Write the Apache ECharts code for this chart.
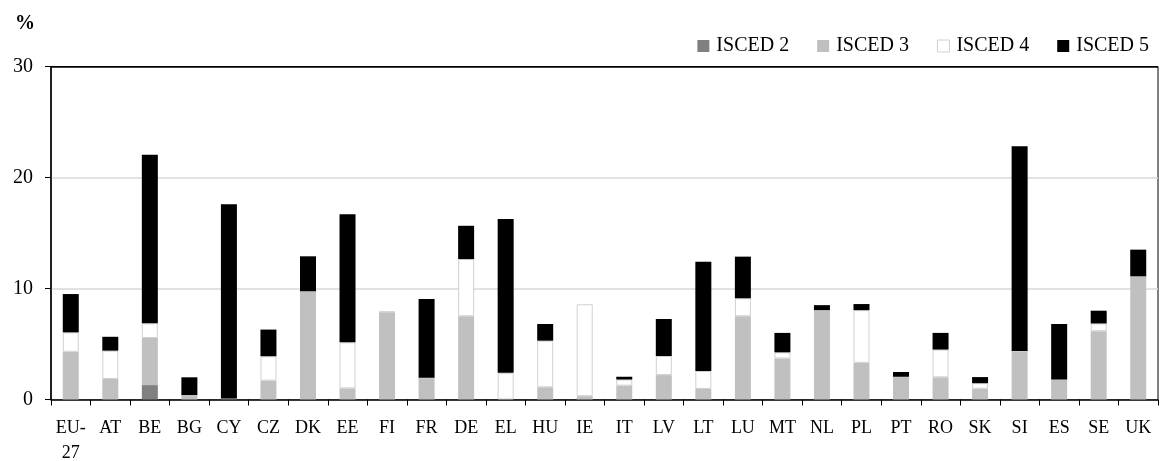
<!DOCTYPE html>
<html>
<head>
<meta charset="utf-8">
<script src="https://cdn.jsdelivr.net/npm/echarts@6/dist/echarts.min.js"></script>
<style>html,body{margin:0;padding:0;background:#fff;}#c{width:1163px;height:461px;}</style>
</head>
<body>
<div id="c"></div>
<script>
const categories = ['EU-\n27','AT','BE','BG','CY','CZ','DK','EE','FI','FR','DE','EL','HU','IE','IT','LV','LT','LU','MT','NL','PL','PT','RO','SK','SI','ES','SE','UK'];
const isced2 = [0,0,1.3,0,0.1,0,0,0,0,0,0,0,0,0,0,0,0,0,0,0,0,0,0,0,0,0,0,0];
const isced3 = [4.3,1.85,4.24,0.4,0,1.7,9.75,1.0,7.85,1.95,7.5,0,1.1,0.3,1.25,2.2,0.95,7.5,3.7,8.05,3.3,2.05,2.0,0.97,4.37,1.8,6.15,11.1];
const isced4 = [1.75,2.55,1.32,0,0,2.2,0,4.15,0.1,0,5.15,2.4,4.2,8.28,0.55,1.72,1.62,1.62,0.55,0,4.75,0,2.5,0.5,0,0,0.7,0];
const isced5 = [3.45,1.25,15.2,1.6,17.5,2.4,3.15,11.55,0,7.1,3.0,13.85,1.5,0,0.25,3.33,9.85,3.75,1.75,0.45,0.55,0.43,1.5,0.55,18.45,5.0,1.15,2.4];
const seriesNames = ['ISCED 2','ISCED 3','ISCED 4','ISCED 5'];
const yTicks = {min:0, max:30, interval:10};

const FONT = 'Liberation Serif';
const chart = echarts.init(document.getElementById('c'), null, {renderer:'canvas'});
const mk = (name, data, color, border) => ({
  name, type:'bar', stack:'t', data, barWidth:16,
  itemStyle:{color, borderColor: border || color, borderWidth: border ? 1 : 0},
  emphasis:{disabled:true}
});
chart.setOption({
  animation:false,
  textStyle:{fontFamily:FONT, color:'#000'},
  title:{text:'%', left:10, top:9, textStyle:{fontFamily:FONT, fontSize:20, fontWeight:'bold', color:'#000'}},
  legend:{
    right:9, top:31, itemWidth:12, itemHeight:12, itemGap:28,
    textStyle:{fontFamily:FONT, fontSize:20, color:'#000', padding:[0,0,0,2]},
    data:[
      {name:'ISCED 2', icon:'rect'},
      {name:'ISCED 3', icon:'rect'},
      {name:'ISCED 4', icon:'rect', itemStyle:{color:'#fff', borderColor:'#d0d0d0', borderWidth:1}},
      {name:'ISCED 5', icon:'rect'}
    ]
  },
  grid:{left:51, right:5, top:66.5, bottom:61.5, outerBoundsMode:'none', containLabel:false, show:true, borderColor:'#000', borderWidth:1, backgroundColor:'transparent'},
  xAxis:{
    type:'category', data:categories,
    axisLine:{lineStyle:{color:'#000', width:1.5}},
    axisTick:{show:true, length:6, lineStyle:{color:'#000'}},
    axisLabel:{interval:0, fontFamily:FONT, fontSize:18, color:'#000', margin:16, lineHeight:25}
  },
  yAxis:{
    type:'value', min:yTicks.min, max:yTicks.max, interval:yTicks.interval,
    axisLine:{show:true, lineStyle:{color:'#000', width:1.5}},
    axisTick:{show:true, length:6, lineStyle:{color:'#000'}},
    splitLine:{lineStyle:{color:['#d9d9d9','#d9d9d9','#d9d9d9','#000000'], width:1.5}},
    axisLabel:{fontFamily:FONT, fontSize:20, color:'#000', margin:18}
  },
  series:[
    mk(seriesNames[0], isced2, '#808080'),
    mk(seriesNames[1], isced3, '#c0c0c0'),
    mk(seriesNames[2], isced4, '#ffffff', '#d0d0d0'),
    mk(seriesNames[3], isced5, '#000000')
  ]
});
</script>
</body>
</html>
